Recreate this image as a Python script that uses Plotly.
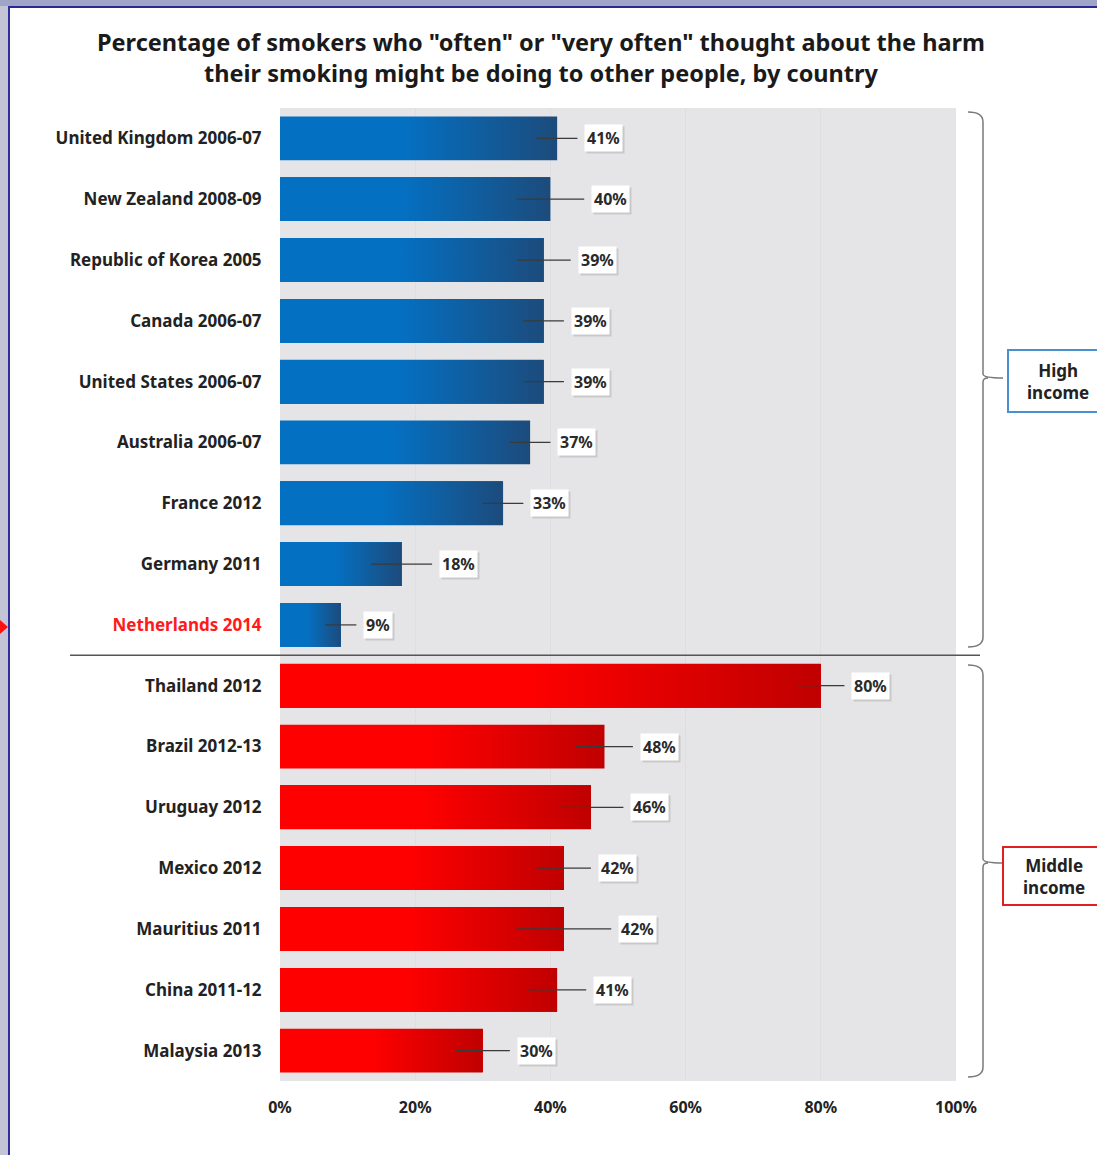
import plotly.graph_objects as go

# Survey results: share of smokers who "often"/"very often" thought about harm to others
countries = [
    "United Kingdom 2006-07", "New Zealand 2008-09", "Republic of Korea 2005",
    "Canada 2006-07", "United States 2006-07", "Australia 2006-07",
    "France 2012", "Germany 2011", "Netherlands 2014",
    "Thailand 2012", "Brazil 2012-13", "Uruguay 2012", "Mexico 2012",
    "Mauritius 2011", "China 2011-12", "Malaysia 2013",
]
values = [41, 40, 39, 39, 39, 37, 33, 18, 9, 80, 48, 46, 42, 42, 41, 30]
errors = [3, 5, 4, 3, 3, 3, 3, 4.5, 2.3, 3.5, 4.2, 4.8, 4, 7, 4.3, 4]
income_group = ["High"] * 9 + ["Middle"] * 7
highlight = "Netherlands 2014"

x_ticks = [0, 20, 40, 60, 80, 100]
x_tick_labels = ["0%", "20%", "40%", "60%", "80%", "100%"]

W, H = 1097, 1155
ML, MR, MT, MB = 280, 141, 108, 74
PW, PH = W - ML - MR, H - MT - MB


def px(x):
    return (x - ML) / PW


def py(y):
    return (H - MB - y) / PH


FONT = "Noto Sans"
BASE = {"High": "#0470C2", "Middle": "#FF0000"}
DARK = {"High": "#1C4B7C", "Middle": "#C00000"}
HALF = 0.36

idx = list(range(len(countries)))
fig = go.Figure()

fig.add_trace(go.Bar(
    x=values, y=idx, orientation="h", width=2 * HALF,
    marker=dict(color=[BASE[g] for g in income_group], line=dict(width=0)),
    hoverinfo="skip", showlegend=False,
))

# horizontal shading toward the end of each bar
for i, (v, g) in enumerate(zip(values, income_group)):
    fig.add_trace(go.Scatter(
        x=[0, v, v, 0, 0], y=[i - HALF, i - HALF, i + HALF, i + HALF, i - HALF],
        mode="lines", line=dict(width=0), fill="toself",
        fillgradient=dict(type="horizontal", start=0.45 * v, stop=v,
                          colorscale=[[0, BASE[g]], [1, DARK[g]]]),
        hoverinfo="skip", showlegend=False,
    ))

fig.add_trace(go.Scatter(
    x=values, y=idx, mode="markers", marker=dict(size=1, opacity=0),
    error_x=dict(type="data", array=errors, symmetric=True, width=0,
                 thickness=1.2, color="#3a3a3a"),
    hoverinfo="skip", showlegend=False,
))

annotations = []
for i, (v, e) in enumerate(zip(values, errors)):
    label = f"{v}%"
    # soft drop shadow behind the value box
    annotations.append(dict(
        x=v + e, y=i, xref="x", yref="y", text=label, showarrow=False,
        xanchor="left", xshift=9, yshift=-2, bgcolor="#c9c9c9", borderpad=2,
        font=dict(family=FONT, size=16, color="rgba(0,0,0,0)", weight="bold"),
    ))
    annotations.append(dict(
        x=v + e, y=i, xref="x", yref="y", text=label, showarrow=False,
        xanchor="left", xshift=7, bgcolor="white", borderpad=2,
        font=dict(family=FONT, size=16, color="#2a2a2a", weight="bold"),
    ))

annotations += [
    dict(x=px(1058), y=py(381), xref="paper", yref="paper", text="High<br>income",
         showarrow=False, xanchor="center", yanchor="middle",
         font=dict(family=FONT, size=17, color="#222222", weight="bold")),
    dict(x=px(1054), y=py(876), xref="paper", yref="paper", text="Middle<br>income",
         showarrow=False, xanchor="center", yanchor="middle",
         font=dict(family=FONT, size=17, color="#222222", weight="bold")),
]


def brace(top, mid, bottom):
    return (f"M {px(968)},{py(top)} Q {px(983)},{py(top)} {px(983)},{py(top + 10)} "
            f"L {px(983)},{py(mid - 4)} Q {px(983)},{py(mid)} {px(1003)},{py(mid)} "
            f"M {px(983)},{py(mid + 4)} Q {px(983)},{py(mid)} {px(988)},{py(mid)} "
            f"M {px(983)},{py(mid + 4)} L {px(983)},{py(bottom - 10)} "
            f"Q {px(983)},{py(bottom)} {px(968)},{py(bottom)}")


shapes = [
    # slide frame
    dict(type="rect", xref="paper", yref="paper", x0=px(0), x1=px(8), y0=py(H), y1=py(0),
         fillcolor="#C3C5D6", line=dict(width=0), layer="above"),
    dict(type="rect", xref="paper", yref="paper", x0=px(0), x1=px(W), y0=py(6), y1=py(0),
         fillcolor="#9FA4C8", line=dict(width=0), layer="above"),
    dict(type="line", xref="paper", yref="paper", x0=px(9), x1=px(9), y0=py(H), y1=py(6),
         line=dict(color="#2F2F9F", width=2), layer="above"),
    dict(type="line", xref="paper", yref="paper", x0=px(9), x1=px(W), y0=py(7), y1=py(7),
         line=dict(color="#2A2A8E", width=2), layer="above"),
    # pointer at the highlighted country
    dict(type="path", xref="paper", yref="paper",
         path=f"M {px(0)},{py(620)} L {px(8)},{py(627)} L {px(0)},{py(634)} Z",
         fillcolor="#FF1010", line=dict(width=0), layer="above"),
    # divider between income groups
    dict(type="line", xref="paper", yref="y", x0=px(70), x1=px(980), y0=8.5, y1=8.5,
         line=dict(color="#555555", width=1.5), layer="above"),
    # group braces
    dict(type="path", xref="paper", yref="paper", path=brace(112, 378, 647),
         line=dict(color="#7a7a7a", width=1.5)),
    dict(type="path", xref="paper", yref="paper", path=brace(665, 863, 1077),
         line=dict(color="#7a7a7a", width=1.5)),
    # group label boxes
    dict(type="rect", xref="paper", yref="paper", x0=px(1008), x1=px(1110),
         y0=py(412), y1=py(350), fillcolor="white", line=dict(color="#4A90D0", width=2)),
    dict(type="rect", xref="paper", yref="paper", x0=px(1003), x1=px(1110),
         y0=py(905), y1=py(847), fillcolor="white", line=dict(color="#E02020", width=2)),
]

tick_text = [f'<span style="color:#FF1A1A">{c}</span>' if c == highlight else c
             for c in countries]

fig.update_layout(
    width=W, height=H,
    margin=dict(l=ML, r=MR, t=MT, b=MB, pad=0),
    paper_bgcolor="white", plot_bgcolor="#E5E5E7",
    title=dict(
        text='Percentage of smokers who "often" or "very often" thought about the harm<br>'
             'their smoking might be doing to other people, by country',
        x=541 / W, xref="container", xanchor="center",
        y=1 - 51 / H, yref="container", yanchor="middle",
        font=dict(family=FONT, size=23.5, color="#1a1a1a", weight="bold"),
    ),
    xaxis=dict(range=[0, 100], tickvals=x_ticks, ticktext=x_tick_labels,
               showgrid=True, gridcolor="#DEDEE0", gridwidth=1, zeroline=False,
               showline=False, ticks="outside", ticklen=12, tickcolor="rgba(0,0,0,0)",
               tickfont=dict(family=FONT, size=16, color="#222222", weight="bold"),
               fixedrange=True),
    yaxis=dict(range=[15.5, -0.5], tickvals=idx, ticktext=tick_text,
               showgrid=False, zeroline=False, showline=False,
               ticks="outside", ticklen=14, tickcolor="rgba(0,0,0,0)",
               tickfont=dict(family=FONT, size=17, color="#222222", weight="bold"),
               fixedrange=True),
    annotations=annotations, shapes=shapes, bargap=0,
)

fig.write_html("out.html")
